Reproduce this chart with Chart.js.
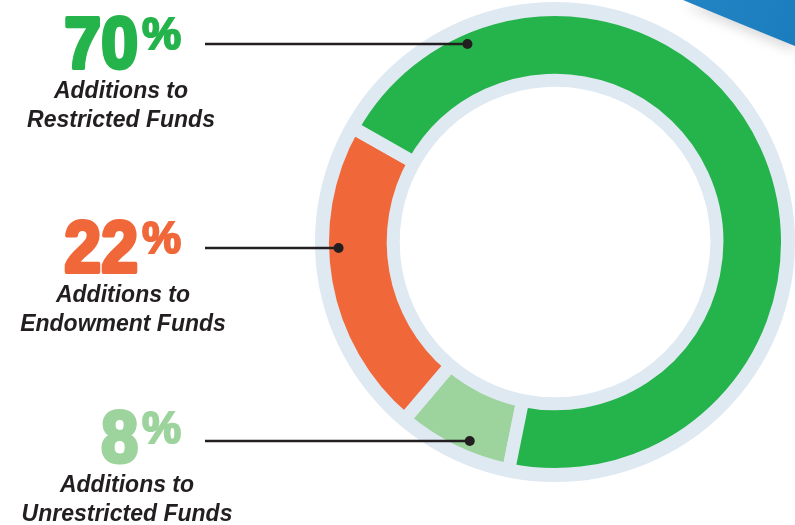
<!DOCTYPE html>
<html>
<head>
<meta charset="utf-8">
<script src="https://cdn.jsdelivr.net/npm/chart.js@4/dist/chart.umd.min.js"></script>
<style>
    html, body { margin: 0; padding: 0; background: #ffffff; }
    #grafico { display: block; }
</style>
</head>
<body>
<canvas id="grafico" width="795" height="525"></canvas>
<script>
// dados na ordem horária a partir do início do anel
const categorias = ['Additions to Unrestricted Funds', 'Additions to Endowment Funds', 'Additions to Restricted Funds'];
const valores = [8, 22, 70];
const linhasRotulo = [
    ['Additions to', 'Unrestricted Funds'],
    ['Additions to', 'Endowment Funds'],
    ['Additions to', 'Restricted Funds']
];
const cores = ['#9dd39c', '#f0683a', '#25b34b'];

// rótulos de cima para baixo
const ordemRotulos = [2, 1, 0];

const corAnel = '#dfe9f2';
const corTexto = '#231f20';

// posição dos rótulos (linha guia, base do número, centro do texto)
const posRotulos = [
    { linhaY: 44, base: 70, centro: 121 },
    { linhaY: 248, base: 274, centro: 123 },
    { linhaY: 441, base: 464, centro: 127 }
];

document.addEventListener('DOMContentLoaded', function () {

    const contexto = document.getElementById('grafico').getContext('2d');

    const pluginDesenho = {
        id: 'desenho',

        beforeDatasetsDraw(chart) {
            const arco = chart.getDatasetMeta(0).data[0];
            const ctx = chart.ctx;
            ctx.save();
            ctx.beginPath();
            ctx.arc(arco.x, arco.y, arco.outerRadius + 7.5, 0, Math.PI * 2);
            ctx.arc(arco.x, arco.y, arco.innerRadius - 5.5, 0, Math.PI * 2, true);
            ctx.fillStyle = corAnel;
            ctx.fill();
            ctx.restore();
        },

        afterDatasetsDraw(chart) {
            const arco = chart.getDatasetMeta(0).data[0];
            const borda = chart.data.datasets[0].borderWidth;
            const ctx = chart.ctx;
            const raioPonto = arco.outerRadius - borda / 2 - 9.5;

            ordemRotulos.forEach((idx, i) => {
                const pos = posRotulos[i];

                // linha guia e ponto
                const dy = pos.linhaY - arco.y;
                const px = arco.x - Math.sqrt(raioPonto * raioPonto - dy * dy);
                ctx.save();
                ctx.strokeStyle = corTexto;
                ctx.lineWidth = 2.5;
                ctx.beginPath();
                ctx.moveTo(205, pos.linhaY);
                ctx.lineTo(px, pos.linhaY);
                ctx.stroke();
                ctx.fillStyle = corTexto;
                ctx.beginPath();
                ctx.arc(px, pos.linhaY, 5, 0, Math.PI * 2);
                ctx.fill();
                ctx.restore();

                // número grande (traço extra para ficar mais pesado)
                ctx.save();
                ctx.fillStyle = cores[idx];
                ctx.strokeStyle = cores[idx];
                ctx.lineWidth = 4;
                ctx.lineJoin = 'round';
                ctx.textAlign = 'right';
                ctx.textBaseline = 'alphabetic';
                ctx.font = 'bold 72px "Liberation Sans", Arial, sans-serif';
                ctx.translate(138, pos.base - 2);
                ctx.scale(0.92, 1);
                ctx.fillText(String(valores[idx]), 0, 0);
                ctx.strokeText(String(valores[idx]), 0, 0);
                ctx.restore();

                ctx.save();
                ctx.fillStyle = cores[idx];
                ctx.strokeStyle = cores[idx];
                ctx.lineWidth = 2;
                ctx.textAlign = 'right';
                ctx.font = 'bold 44px "Liberation Sans", Arial, sans-serif';
                ctx.fillText('%', 181, pos.base - 21);
                ctx.strokeText('%', 181, pos.base - 21);
                ctx.restore();

                // texto da categoria
                ctx.save();
                ctx.fillStyle = corTexto;
                ctx.textAlign = 'center';
                ctx.font = 'italic bold 23px "Liberation Sans", Arial, sans-serif';
                linhasRotulo[idx].forEach((linha, j) => {
                    ctx.fillText(linha, pos.centro, pos.base + 28 + j * 29);
                });
                ctx.restore();
            });
        },

        afterDraw(chart) {
            // faixa azul decorativa no canto
            const ctx = chart.ctx;
            const w = chart.width;
            ctx.save();
            ctx.beginPath();
            ctx.moveTo(w - 112, 0);
            ctx.lineTo(w, 0);
            ctx.lineTo(w, 46);
            ctx.quadraticCurveTo(w - 52, 25, w - 112, 0);
            ctx.closePath();
            const grad = ctx.createLinearGradient(w - 112, 0, w, 46);
            grad.addColorStop(0, '#2384c4');
            grad.addColorStop(1, '#1b7dbd');
            ctx.shadowColor = 'rgba(0,0,0,0.15)';
            ctx.shadowBlur = 12;
            ctx.shadowOffsetY = 5;
            ctx.fillStyle = grad;
            ctx.fill();
            ctx.restore();
        }
    };

    new Chart(contexto, {
        type: 'doughnut',
        data: {
            labels: categorias,
            datasets: [{
                data: valores,
                backgroundColor: cores,
                borderColor: corAnel,
                borderWidth: 13,
                borderAlign: 'center'
            }]
        },
        options: {
            responsive: false,
            animation: false,
            events: [],
            rotation: 191.5,
            radius: 232.5,
            cutout: 162.5,
            layout: {
                padding: { left: 315, right: 0, top: 0, bottom: 41 }
            },
            plugins: {
                legend: { display: false },
                tooltip: { enabled: false }
            }
        },
        plugins: [pluginDesenho]
    });

});
</script>
</body>
</html>
